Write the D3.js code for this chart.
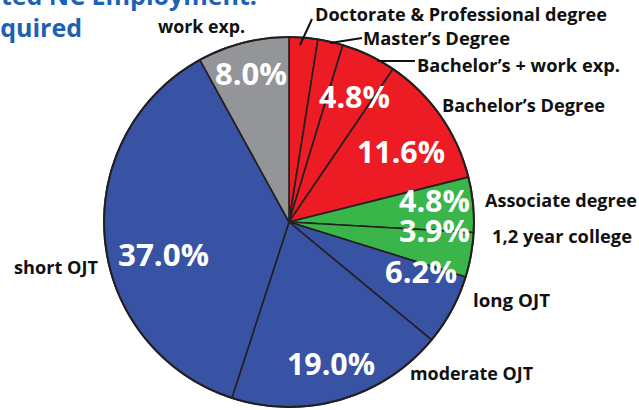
<!DOCTYPE html>
<html><head><meta charset="utf-8">
<script src="https://cdn.jsdelivr.net/npm/d3@7"></script>
<style>
html,body{margin:0;padding:0;background:#fff;}
svg{display:block;}
text{font-family:"Open Sans",sans-serif;font-weight:700;}
</style></head>
<body>
<svg id="chart" width="639" height="410"></svg>
<script>
// ---- data ----
const categories = ["Doctorate & Professional degree","Master’s Degree","Bachelor’s + work exp.","Bachelor’s Degree","Associate degree","1,2 year college","long OJT","moderate OJT","short OJT","work exp."];
const values = [2.5, 2.2, 4.8, 11.6, 4.8, 3.9, 6.2, 19.0, 37.0, 8.0];
const valueLabels = [null, null, "4.8%", "11.6%", "4.8%", "3.9%", "6.2%", "19.0%", "37.0%", "8.0%"];
const groups = ["deg","deg","deg","deg","col","col","ojt","ojt","ojt","exp"];
const titleLines = ["Projected NC Employment:", "Education Required"];

// ---- layout (styling / placement only) ----
const colors = {deg:"#ed1c24", col:"#39b54a", ojt:"#3953a4", exp:"#939598"};
const cx = 289, cy = 222, R = 185;
const pctPos = [null, null, [319,108,71],[357,163,88],[399,212,71],[399,242,71],[385,283,72],[287,375,88],[118,266,91],[215,85,72]];
const catPos = [[315,21,292],[363,45,147],[417,72,203],[442,112,163],[485,207,152],[492,243,140],[473,307,77],[410,380,123],[14,274,84],[158,33,87]];
const leaders = [[[300,45],[312,19]], [[330,43],[362,38]], [[377,61],[415,61]]];

const svg = d3.select("#chart");

// title
svg.append("text").attr("x",257).attr("y",5).attr("text-anchor","end")
  .attr("fill","#1b62b5").attr("font-size",25).text(titleLines[0]);
svg.append("text").attr("x",82).attr("y",37).attr("text-anchor","end")
  .attr("fill","#1b62b5").attr("font-size",25).text(titleLines[1]);

const pie = d3.pie().sort(null).value(d=>d).startAngle(0).endAngle(2*Math.PI);
const arcs = pie(values);
const arc = d3.arc().innerRadius(0).outerRadius(R);

const g = svg.append("g").attr("transform",`translate(${cx},${cy})`);
g.selectAll("path.slice").data(arcs).join("path")
  .attr("class","slice")
  .attr("d",arc)
  .attr("fill",(d,i)=>colors[groups[i]])
  .attr("stroke","#231f20").attr("stroke-width",1.6).attr("stroke-linejoin","round");
g.append("circle").attr("r",R).attr("fill","none").attr("stroke","#231f20").attr("stroke-width",2);

// percentage labels
svg.append("g").selectAll("text").data(valueLabels.map((t,i)=>({t,p:pctPos[i]})).filter(d=>d.t))
  .join("text")
  .attr("x",d=>d.p[0]).attr("y",d=>d.p[1])
  .attr("textLength",d=>d.p[2]).attr("lengthAdjust","spacingAndGlyphs")
  .attr("fill","#fff").attr("font-size",31).text(d=>d.t);

// category labels
svg.append("g").selectAll("text").data(categories)
  .join("text")
  .attr("x",(d,i)=>catPos[i][0]).attr("y",(d,i)=>catPos[i][1])
  .attr("textLength",(d,i)=>catPos[i][2]).attr("lengthAdjust","spacingAndGlyphs")
  .attr("fill","#111").attr("font-size",17).text(d=>d);

// leader lines
svg.append("g").selectAll("line").data(leaders).join("line")
  .attr("x1",d=>d[0][0]).attr("y1",d=>d[0][1]).attr("x2",d=>d[1][0]).attr("y2",d=>d[1][1])
  .attr("stroke","#111").attr("stroke-width",2);
</script>
</body></html>
